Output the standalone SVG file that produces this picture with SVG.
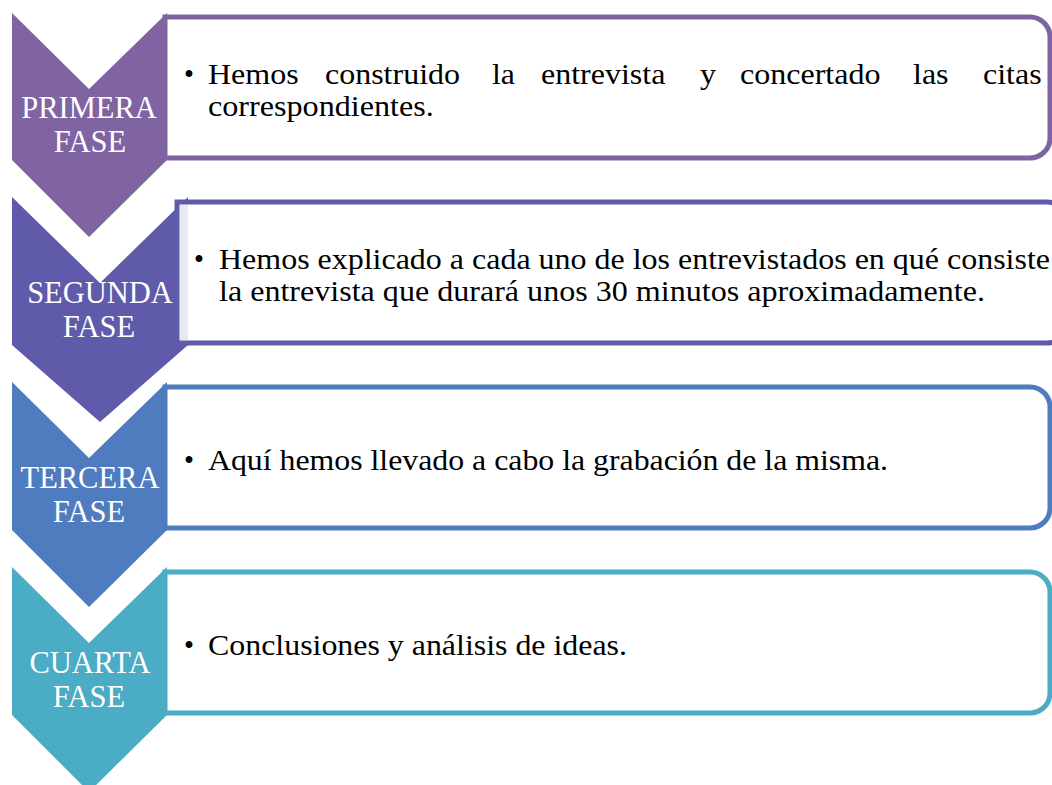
<svg xmlns="http://www.w3.org/2000/svg" width="1052" height="785" viewBox="0 0 1052 785">
<style>
.box{fill:#fff;stroke-width:5}
.lbl{font-family:"Liberation Serif","Times New Roman",serif;font-size:30.5px;fill:#fff;text-anchor:middle}
.txt{font-family:"Liberation Serif","Times New Roman",serif;font-size:28.5px;fill:#000}
</style>
<rect width="1052" height="785" fill="#fff"/>
<g id="fase1">
<path class="box" d="M165,17 H1030 A20,20 0 0 1 1050,37 V138 A20,20 0 0 1 1030,158 H165 Z" stroke="#8064A2"/>
<path d="M12,13 L89,89 L167,13 L167,160 L89,237 L12,160 Z" fill="#8064A2"/>
<text class="lbl" x="89" y="118">PRIMERA</text>
<text class="lbl" x="90" y="152">FASE</text>
<text class="txt" x="184" y="84">•</text>
<text class="txt" x="208" y="84" textLength="90.7" lengthAdjust="spacingAndGlyphs">Hemos</text>
<text class="txt" x="325" y="84" textLength="135" lengthAdjust="spacingAndGlyphs">construido</text>
<text class="txt" x="492" y="84" textLength="23" lengthAdjust="spacingAndGlyphs">la</text>
<text class="txt" x="541" y="84" textLength="124.4" lengthAdjust="spacingAndGlyphs">entrevista</text>
<text class="txt" x="700" y="84" textLength="16" lengthAdjust="spacingAndGlyphs">y</text>
<text class="txt" x="740" y="84" textLength="140.4" lengthAdjust="spacingAndGlyphs">concertado</text>
<text class="txt" x="913" y="84" textLength="35.6" lengthAdjust="spacingAndGlyphs">las</text>
<text class="txt" x="983" y="84" textLength="58.7" lengthAdjust="spacingAndGlyphs">citas</text>
<text class="txt" x="208" y="116" textLength="225.8" lengthAdjust="spacingAndGlyphs">correspondientes.</text>
</g>
<g id="fase2">
<path d="M12,197 L100,283 L188,197 L188,345 L100,422 L12,345 Z" fill="#5F5BAA"/>
<path class="box" d="M177,202 H1047 A20,20 0 0 1 1067,222 V323 A20,20 0 0 1 1047,343 H177 Z" stroke="#5F5BAA"/>
<rect x="180" y="205" width="8" height="135" fill="#E9E8F5"/>
<text class="lbl" x="100" y="303">SEGUNDA</text>
<text class="lbl" x="99" y="337">FASE</text>
<text class="txt" x="194" y="269">•</text>
<text class="txt" x="219" y="269" textLength="831" lengthAdjust="spacingAndGlyphs">Hemos explicado a cada uno de los entrevistados en qué consiste</text>
<text class="txt" x="219" y="301" textLength="766" lengthAdjust="spacingAndGlyphs">la entrevista que durará unos 30 minutos aproximadamente.</text>
</g>
<g id="fase3">
<path class="box" d="M165,387 H1030 A20,20 0 0 1 1050,407 V508 A20,20 0 0 1 1030,528 H165 Z" stroke="#4F7CBE"/>
<path d="M12,382 L89,458 L167,382 L167,530 L89,607 L12,530 Z" fill="#4F7CBE"/>
<text class="lbl" x="90" y="488">TERCERA</text>
<text class="lbl" x="89" y="522">FASE</text>
<text class="txt" x="184" y="470">•</text>
<text class="txt" x="208" y="470" textLength="680" lengthAdjust="spacingAndGlyphs">Aquí hemos llevado a cabo la grabación de la misma.</text>
</g>
<g id="fase4">
<path class="box" d="M165,572 H1030 A20,20 0 0 1 1050,592 V693 A20,20 0 0 1 1030,713 H165 Z" stroke="#4BACC6"/>
<path d="M12,567 L89,643 L167,567 L167,715 L89,792 L12,715 Z" fill="#4BACC6"/>
<text class="lbl" x="90" y="673">CUARTA</text>
<text class="lbl" x="89" y="707">FASE</text>
<text class="txt" x="184" y="655">•</text>
<text class="txt" x="208" y="655" textLength="419" lengthAdjust="spacingAndGlyphs">Conclusiones y análisis de ideas.</text>
</g>
<g id="connectors"></g>
</svg>
